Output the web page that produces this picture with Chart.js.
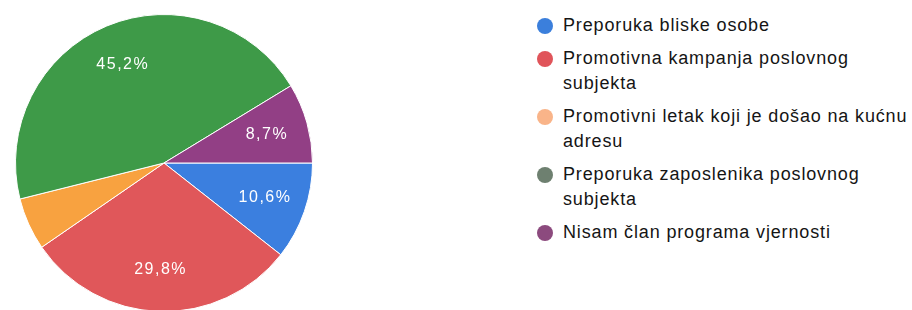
<!DOCTYPE html>
<html>
<head>
<meta charset="utf-8">
<script src="https://cdn.jsdelivr.net/npm/chart.js@4.4.1/dist/chart.umd.min.js"></script>
<style>
  html, body { margin: 0; padding: 0; background: #fff; overflow: hidden; }
  body { width: 912px; height: 310px; position: relative; font-family: "Liberation Sans", Arial, sans-serif; }
  #pieBox { position: absolute; left: 15px; top: 14px; width: 298px; height: 298px; }
  #legend { position: absolute; left: 536px; top: 13px; margin: 0; padding: 0; list-style: none; }
  #legend li { position: relative; padding-left: 27px; margin-bottom: 8px; width: 352px;
               font-size: 18px; line-height: 25px; color: #151515; letter-spacing: 0.85px; }
  #legend li span.dot { position: absolute; left: 1px; top: 5px; width: 16px; height: 16px; border-radius: 50%; }
</style>
</head>
<body>
<div id="pieBox"><canvas id="cPie"></canvas></div>
<ul id="legend"></ul>
<script>
/* ── Data ── */
const labels = [
  'Preporuka bliske osobe',
  'Promotivna kampanja poslovnog subjekta',
  'Promotivni letak koji je došao na kućnu adresu',
  'Preporuka zaposlenika poslovnog subjekta',
  'Nisam član programa vjernosti'
];
const shares = [10.6, 29.8, 5.7, 45.2, 8.7];
const pctText = ['10,6%', '29,8%', '', '45,2%', '8,7%'];

/* ── Colours ── */
const sliceColors  = ['#3b7fdf', '#e0575a', '#f8a240', '#3e9a48', '#923f85'];
const legendColors = ['#3b7fdc', '#e0545a', '#f9b489', '#6e8070', '#8c4a7e'];

/* in-slice percentage labels */
const pctLabels = {
  id: 'pctLabels',
  afterDatasetsDraw(chart) {
    const ctx = chart.ctx;
    const arcs = chart.getDatasetMeta(0).data;
    ctx.save();
    ctx.fillStyle = '#fff';
    ctx.font = '16px "Liberation Sans", Arial, sans-serif';
    ctx.letterSpacing = '1.5px';
    ctx.textAlign = 'center';
    ctx.textBaseline = 'middle';
    arcs.forEach((a, i) => {
      if (!pctText[i]) return;
      const p = a.getProps(['x', 'y', 'startAngle', 'endAngle', 'outerRadius']);
      const mid = (p.startAngle + p.endAngle) / 2;
      const r = p.outerRadius * 0.72;
      ctx.fillText(pctText[i], p.x + Math.cos(mid) * r, p.y + Math.sin(mid) * r);
    });
    ctx.restore();
  }
};

new Chart(document.getElementById('cPie'), {
  type: 'pie',
  data: {
    labels: labels,
    datasets: [{
      data: shares,
      backgroundColor: sliceColors,
      borderColor: '#fff',
      borderWidth: 1
    }]
  },
  options: {
    responsive: true,
    maintainAspectRatio: false,
    animation: false,
    rotation: 90,
    layout: { padding: 0 },
    plugins: { legend: { display: false }, tooltip: { enabled: false } }
  },
  plugins: [pctLabels]
});

/* ── HTML legend ── */
const ul = document.getElementById('legend');
labels.forEach((t, i) => {
  const li = document.createElement('li');
  const dot = document.createElement('span');
  dot.className = 'dot';
  dot.style.background = legendColors[i];
  li.appendChild(dot);
  li.appendChild(document.createTextNode(t));
  ul.appendChild(li);
});
</script>
</body>
</html>
